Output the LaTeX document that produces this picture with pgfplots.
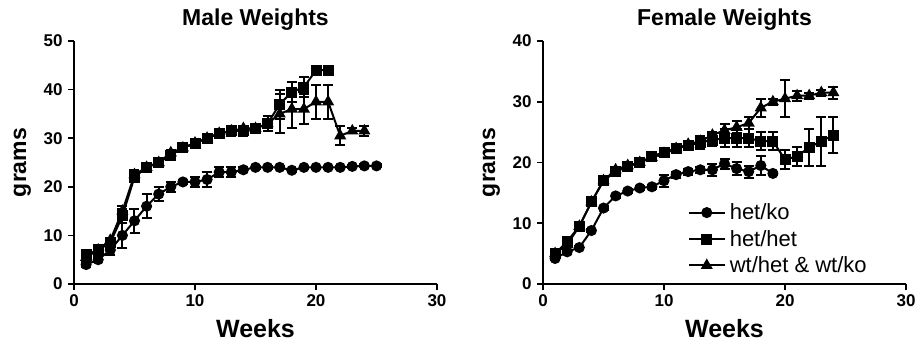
\documentclass[border=0pt]{standalone}
\usepackage{pgfplots}
\pgfplotsset{compat=1.18}
\usepackage{pgfplotstable}
\usepackage{fontspec}
\setmainfont{Liberation Sans}

\pgfplotstableread{
x y e
1 4 0.5
2 5 0.5
3 7 1
4 10 2.5
5 13 2.5
6 16 2.5
7 18.5 1.5
8 20 1
9 21 0.5
10 21 1
11 21.5 1.5
12 23 1
13 23 1
14 23.5 0.5
15 24 0.3
16 24 0.3
17 24 0.3
18 23.4 0.3
19 24 0.3
20 24 0.3
21 24 0.3
22 24 0.3
23 24.2 0.3
24 24.3 0.3
25 24.3 0.3
}\Mko

\pgfplotstableread{
x y e
1 6 1
2 7 1
3 8.5 1
4 14 1.5
5 22 1
6 24 0.5
7 25 0.5
8 26.5 0.5
9 28 0.5
10 29 0.5
11 30 0.5
12 31 0.5
13 31.5 1
14 31.5 1
15 32 1
16 33 1.5
17 37 3
18 39.5 2
19 40.5 2
20 44 0.5
21 44 0.5
}\Mhet

\pgfplotstableread{
x y e
1 5.5 0.5
2 7 0.5
3 9 0.5
4 15 1
5 22.5 1
6 24 0.5
7 25 0.5
8 27 0.5
9 28 0.5
10 29 0.5
11 30 0.5
12 31 0.5
13 31.5 0.5
14 32 0.5
15 32 0.5
16 33 1
17 35 4
18 36 4
19 36 3
20 37.5 3.5
21 37.5 3.5
22 30.5 2
23 31.5 0.5
24 31.5 1
}\Mwt

\pgfplotstableread{
x y e
1 4.2 0.3
2 5.3 0.3
3 6 0.3
4 8.8 0.3
5 12.5 0.3
6 14.5 0.3
7 15.3 0.3
8 15.8 0.3
9 16 0.3
10 17 1
11 18 0.5
12 18.5 0.5
13 18.8 0.5
14 18.8 1
15 19.8 0.8
16 19 1
17 18.5 1
18 19.5 1.5
19 18.2 0.3
}\Fko

\pgfplotstableread{
x y e
1 5 0.3
2 7 0.5
3 9.5 0.5
4 13.5 0.5
5 17 0.5
6 18.5 0.5
7 19.3 0.5
8 20 0.5
9 21 0.5
10 21.7 0.5
11 22.3 0.5
12 22.8 0.5
13 23.3 1
14 23.7 1
15 24 1.5
16 24 1.5
17 24 1.5
18 23.5 1.5
19 23.5 1.5
20 20.5 1.5
21 21 1.5
22 22.5 3
23 23.5 4
24 24.5 3
}\Fhet

\pgfplotstableread{
x y e
1 5 0.3
2 6.5 0.3
3 9.5 0.3
4 13.5 0.3
5 17 0.3
6 18.8 0.3
7 19.5 0.3
8 20 0.3
9 20.8 0.3
10 21.5 0.3
11 22.3 0.3
12 23 0.5
13 23.5 0.5
14 24.5 0.5
15 25.3 1
16 25.8 1
17 26.5 1
18 29 1.5
19 30 0.5
20 30.5 3
21 31 0.8
22 31 0.5
23 31.5 0.5
24 31.5 1
}\Fwt

\pgfplotsset{
  myaxis/.style={
    scale only axis,
    axis lines=left,
    axis line style={-, line width=2pt},
    tick align=outside,
    major tick length=6pt,
    tick style={line width=1.6pt, black},
    xmin=0, xmax=30,
    xtick={0,10,20,30},
    ymin=0,
    /pgf/number format/assume math mode=true,
    tick label style={font=\bfseries\fontsize{17}{17}\selectfont},
    yticklabel style={xshift=-2pt},
    xticklabel style={yshift=-1pt},
    title style={font=\bfseries\fontsize{23}{23}\selectfont, at={(axis description cs:0.5,1)}, anchor=south, inner sep=0pt, yshift=4pt},
    xlabel style={font=\bfseries\fontsize{25}{25}\selectfont, at={(axis description cs:0.5,0)}, anchor=north, inner sep=0pt, yshift=-35pt},
    ylabel style={font=\bfseries\fontsize{23}{23}\selectfont, inner sep=0pt},
    xlabel={Weeks},
    ylabel={grams},
    cycle list={{black}},
    error bars/y dir=both,
    error bars/y explicit,
    error bars/error bar style={line width=2pt, black},
    error bars/error mark options={rotate=90, mark size=5pt, line width=2pt, black},
  },
  ko/.style={black, line width=2pt, mark=*, mark size=4.5pt, mark options={solid, fill=black}},
  het/.style={black, line width=2pt, mark=square*, mark size=4.5pt, mark options={solid, fill=black}},
  wt/.style={black, line width=2pt, mark=triangle*, mark size=5pt, mark options={solid, fill=black}},
}

\begin{document}
\begin{tikzpicture}
\path[use as bounding box] (0,0) rectangle (918pt,356pt);
\begin{axis}[myaxis,
  at={(74pt,72pt)}, anchor=south west,
  width=363pt, height=243pt,
  ymax=50, ytick={0,10,20,30,40,50},
  title={Male Weights},
  ylabel style={at={(axis description cs:-0.118,0.5)}, anchor=south},
]
\addplot[wt] table[x=x, y=y, y error=e] {\Mwt};
\addplot[het] table[x=x, y=y, y error=e] {\Mhet};
\addplot[ko] table[x=x, y=y, y error=e] {\Mko};
\end{axis}
\begin{axis}[myaxis,
  at={(543pt,72pt)}, anchor=south west,
  width=363pt, height=243pt,
  ymax=40, ytick={0,10,20,30,40},
  title={Female Weights},
  ylabel style={at={(axis description cs:-0.118,0.5)}, anchor=south},
  legend style={at={(0.39,0.347)}, anchor=north west, draw=none, fill=none,
    font=\fontsize{22}{22}\selectfont, row sep=5pt,
    legend cell align=left,
    nodes={inner xsep=4pt}},
  legend image code/.code={\draw[line width=2pt] (0pt,0pt) -- (36pt,0pt);
    \draw plot[#1] coordinates {(18pt,0pt)};},
  reverse legend,
]
\addplot[wt] table[x=x, y=y, y error=e] {\Fwt};
\addlegendentry{wt/het \& wt/ko}
\addplot[het] table[x=x, y=y, y error=e] {\Fhet};
\addlegendentry{het/het}
\addplot[ko] table[x=x, y=y, y error=e] {\Fko};
\addlegendentry{het/ko}
\end{axis}
\end{tikzpicture}
\end{document}
